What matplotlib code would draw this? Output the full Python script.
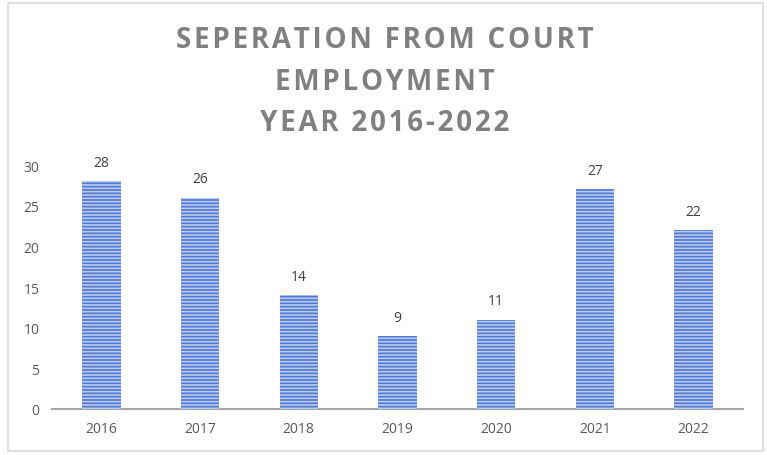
import matplotlib
matplotlib.use("Agg")
import matplotlib.pyplot as plt
from matplotlib.patches import Rectangle

years = ["2016", "2017", "2018", "2019", "2020", "2021", "2022"]
separations = [28, 26, 14, 9, 11, 27, 22]
yticks = [0, 5, 10, 15, 20, 25, 30]
title_lines = ["SEPERATION FROM COURT", "EMPLOYMENT", "YEAR 2016-2022"]

plt.rcParams['font.family'] = ['Open Sans', 'DejaVu Sans']
plt.rcParams['hatch.linewidth'] = 1.2

fig = plt.figure(figsize=(7.67, 4.56), dpi=100)
W, H = 767, 456
fig.patches.append(Rectangle((8 / W, 4 / H), 755 / W, 448 / H, transform=fig.transFigure,
                             fill=False, edgecolor='#d9d9d9', linewidth=1.2))

ax = fig.add_axes([52 / W, 46 / H, 691 / W, 244 / H])
x = list(range(len(years)))
ax.bar(x, separations, width=0.39, color='#5079d0', linewidth=0, zorder=2)
ax.bar(x, separations, width=0.39, facecolor='none', edgecolor='#b8caf2', hatch='-----',
       linewidth=0, zorder=3)

for xi, v in zip(x, separations):
    ax.annotate(str(v), (xi, v), xytext=(0, 8), textcoords='offset points',
                ha='center', va='bottom', fontsize=10, color='#404040')

ax.set_xlim(-0.5, len(years) - 0.5)
ax.set_ylim(0, 30)
ax.set_yticks(yticks)
ax.set_xticks(x)
ax.set_xticklabels(years)
ax.tick_params(axis='both', length=0, labelsize=10, labelcolor='#595959')
ax.tick_params(axis='y', pad=9)
ax.tick_params(axis='x', pad=9)
for s in ['top', 'right', 'left']:
    ax.spines[s].set_visible(False)
ax.spines['bottom'].set_color('#a6a6a6')
ax.spines['bottom'].set_linewidth(1.5)

spaced = "\n".join("\u200a".join(line) for line in title_lines)
fig.text(385 / W, 1 - 82 / H, spaced, ha='center', va='center', fontsize=20,
         fontweight='bold', color='#808080', linespacing=1.55)

fig.savefig("out.png", dpi=100)
